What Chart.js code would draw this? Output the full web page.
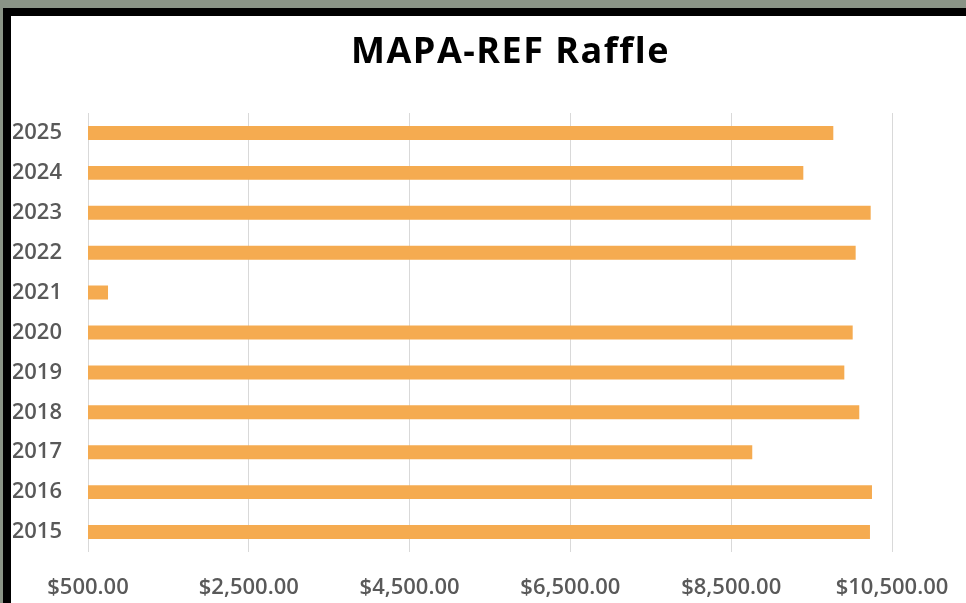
<!DOCTYPE html>
<html>
<head>
<meta charset="utf-8">
<script src="https://cdn.jsdelivr.net/npm/chart.js@4.4.1/dist/chart.umd.min.js"></script>
<style>
  html, body { margin: 0; padding: 0; }
  body { width: 966px; height: 603px; background: #8a9486; position: relative; overflow: hidden; }
  #frame {
    position: absolute; left: 3px; top: 8px; right: 0; bottom: 0;
    border-top: 8px solid #000; border-left: 8px solid #000;
    background: #fff;
  }
  #wrap { position: absolute; left: 0; top: 0; width: 955px; height: 587px; }
</style>
</head>
<body>
<div id="frame"><div id="wrap"><canvas id="raffleChart"></canvas></div></div>
<script>
// Raffle totals by year
let chartTitle = "MAPA-REF Raffle";
let years = ["2015", "2016", "2017", "2018", "2019", "2020", "2021", "2022", "2023", "2024", "2025"];
let totals = [10226, 10251, 8762, 10093, 9907, 10011, 749, 10048, 10235, 9397, 9770];
let axisMin = 500;
let axisMax = 10500;
let axisStep = 2000;

let labelFont = { family: "'Open Sans', sans-serif", size: 22, weight: "600" };

// draw the title ourselves so it can sit a little right of centre like the original
let titlePlugin = {
  id: "offsetTitle",
  afterDraw(chart) {
    let ctx = chart.ctx;
    ctx.save();
    ctx.font = "bold 36px 'Open Sans', sans-serif";
    ctx.letterSpacing = "1.5px";
    ctx.fillStyle = "#000";
    ctx.textAlign = "center";
    ctx.textBaseline = "alphabetic";
    ctx.fillText(chartTitle, chart.width / 2 + 22, 47);
    ctx.restore();
  },
};

let ctx = document.getElementById("raffleChart").getContext("2d");
let raffleChart = new Chart(ctx, {
  type: "bar",
  data: {
    labels: years,
    datasets: [
      {
        label: "Raffle",
        data: totals,
        backgroundColor: "#f5ab50",
        categoryPercentage: 1,
        barPercentage: 0.35,
      },
    ],
  },
  options: {
    indexAxis: "y",
    responsive: true,
    maintainAspectRatio: false,
    animation: false,
    layout: {
      padding: { top: 97, left: 2, right: 74, bottom: 1 },
    },
    plugins: {
      legend: { display: false },
      tooltip: { enabled: false },
    },
    scales: {
      x: {
        min: axisMin,
        max: axisMax,
        border: { display: false },
        grid: { color: "#d9d9d9", drawTicks: false },
        ticks: {
          stepSize: axisStep,
          padding: 23,
          color: "#595959",
          font: labelFont,
          maxRotation: 0,
          autoSkip: false,
          callback: (v) =>
            "$" + Number(v).toLocaleString("en-US", { minimumFractionDigits: 2, maximumFractionDigits: 2 }),
        },
        afterFit: (scale) => {
          scale.height = 50;
          scale.paddingLeft = 0;
          scale.paddingRight = 0;
        },
      },
      y: {
        reverse: true,
        border: { display: false },
        grid: { display: false, drawTicks: false },
        ticks: {
          padding: 26,
          color: "#595959",
          font: labelFont,
        },
        afterFit: (scale) => {
          scale.width = 75;
        },
      },
    },
  },
  plugins: [titlePlugin],
});
</script>
</body>
</html>
